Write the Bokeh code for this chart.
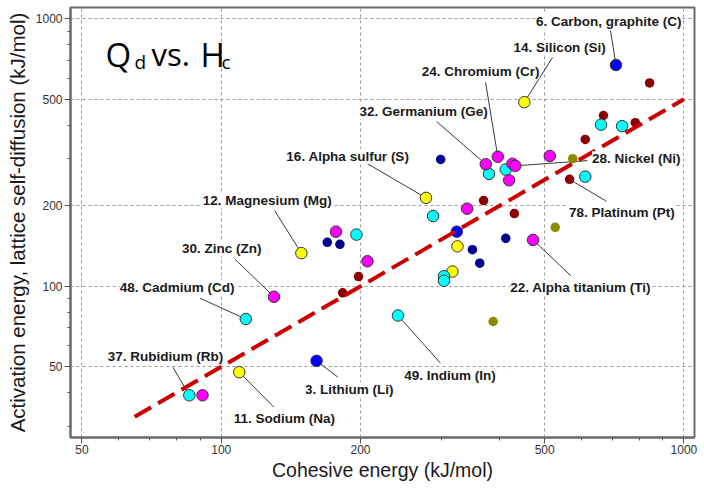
from bokeh.plotting import figure
from bokeh.models import ColumnDataSource, LabelSet, Label, FixedTicker, NumeralTickFormatter
from bokeh.core.properties import value
from bokeh.embed import file_html
from bokeh.resources import INLINE

# ---- data (cohesive energy kJ/mol, activation energy kJ/mol) ----
yellow_x = [452, 277, 324, 316, 149, 109.4]
yellow_y = [488, 214, 141, 113.5, 133, 47.7]
cyan_x = [379, 412, 612, 662, 735, 287, 303, 303, 241, 196, 113, 85.3]
cyan_y = [263, 273, 257, 402, 397, 183, 109, 104.8, 77.7, 156, 75.4, 39.1]
magenta_x = [396, 373, 426, 432, 419, 513, 340, 472, 177, 207, 130, 91.1]
magenta_y = [305, 286, 287, 282, 249, 307, 195, 149, 160, 124, 91.3, 39.1]
blue_x = [713, 323, 160.7]
blue_y = [672, 160, 52.6]
navy_x = [298, 169.5, 180.5, 412, 349, 362]
navy_y = [298, 146, 143.5, 151, 137, 122]
darkred_x = [843, 670, 785, 612, 566, 369, 430, 198, 183]
darkred_y = [576, 435, 409, 354, 251, 209, 187, 108.7, 94.5]
olive_x = [575, 527, 387]
olive_y = [300, 166, 73.8]

fit_x = [65, 1000]
fit_y = [32.5, 500]

label_text = ["6. Carbon, graphite (C)", "14. Silicon (Si)", "24. Chromium (Cr)",
              "32. Germanium (Ge)", "16. Alpha sulfur (S)", "28. Nickel (Ni)",
              "78. Platinum (Pt)", "12. Magnesium (Mg)", "30. Zinc (Zn)",
              "48. Cadmium (Cd)", "37. Rubidium (Rb)", "11. Sodium (Na)",
              "3. Lithium (Li)", "49. Indium (In)", "22. Alpha titanium (Ti)"]
label_pt_x = [713, 452, 396, 373, 277, 432, 566, 149, 130, 113, 85.3, 109.4, 160.7, 241, 472]
label_pt_y = [672, 488, 305, 286, 214, 282, 251, 133, 91.3, 75.4, 39.1, 47.7, 52.6, 77.7, 149]
# label placement (annotation layout)
label_x = [687.5, 539, 363.5, 273.7, 187.8, 789, 734.6, 125.7, 100.3, 80.3, 75.8, 136.9, 189.1, 312, 598]
label_y = [977, 783, 635, 450, 306, 300, 189, 208.7, 138, 99.1, 54.6, 31.9, 41.1, 46.4, 99.1]
leader_x = [694, 520, 372.7, 292, 206.8, 618.5, 679.6, 130.4, 106.9, 89.9, 78.6, 129.9, 178.7, 297.9, 569]
leader_y = [904, 717, 578, 413, 287.6, 295, 208, 191.9, 126.6, 90.2, 49.8, 35.3, 45.7, 51.5, 109.7]

major_ticks = [50, 100, 200, 500, 1000]
x_minor = [60, 70, 80, 90, 300, 400, 600, 700, 800, 900]
y_minor = [30, 40, 60, 70, 80, 90, 300, 400, 600, 700, 800, 900]

p = figure(width=700, height=484, x_axis_type="log", y_axis_type="log",
           x_range=(47.23, 1054), y_range=(27.18, 1102.5),
           output_backend="svg", toolbar_location=None,
           min_border_left=70, min_border_right=6, min_border_top=7, min_border_bottom=47)
p.background_fill_color = "white"
p.border_fill_color = "white"
p.outline_line_color = "#6b6b6b"
p.outline_line_width = 2

for ax, minor in ((p.xaxis, x_minor), (p.yaxis, y_minor)):
    ax.ticker = FixedTicker(ticks=major_ticks, minor_ticks=minor)
    ax.formatter = NumeralTickFormatter(format="0")
    ax.axis_line_color = "#6b6b6b"
    ax.axis_line_width = 2
    ax.major_tick_line_color = "#555555"
    ax.minor_tick_line_color = "#555555"
    ax.major_tick_out = 6
    ax.major_tick_in = 0
    ax.minor_tick_out = 3
    ax.minor_tick_in = 0
    ax.major_label_text_font = "Liberation Sans"
    ax.major_label_text_font_size = "12px"
    ax.major_label_text_color = "#333333"
    ax.axis_label_text_font = "Liberation Sans"
    ax.axis_label_text_font_style = "normal"
    ax.axis_label_text_color = "#1a1a1a"

p.xaxis.major_label_standoff = 1
p.xaxis.axis_label_standoff = 2
p.yaxis.major_label_standoff = 2
p.yaxis.axis_label_standoff = 4
p.xaxis.axis_label = "Cohesive energy (kJ/mol)"
p.yaxis.axis_label = "Activation energy, lattice self-diffusion (kJ/mol)"
p.xaxis.axis_label_text_font_size = "19.5px"
p.yaxis.axis_label_text_font_size = "20.5px"

for g in (p.xgrid, p.ygrid):
    g.grid_line_color = "#9a9a9a"
    g.grid_line_dash = "3 3"
    g.grid_line_width = 1

# leader lines
lead_src = ColumnDataSource(dict(x0=leader_x, y0=leader_y, x1=label_pt_x, y1=label_pt_y))
p.segment("x0", "y0", "x1", "y1", source=lead_src, line_color="#3a3a3a", line_width=1)

# small dots
for xs, ys, col in ((navy_x, navy_y, "#00008b"), (darkred_x, darkred_y, "#8b0000"),
                    (olive_x, olive_y, "#8b8b00")):
    p.scatter(xs, ys, size=9.5, fill_color=col, line_color=None)

# big outlined circles
for xs, ys, col in ((yellow_x, yellow_y, "#ffff00"), (cyan_x, cyan_y, "#00ffff"),
                    (magenta_x, magenta_y, "#ff00ff"), (blue_x, blue_y, "#0000ff")):
    p.scatter(xs, ys, size=11.5, fill_color=col, line_color="#333333", line_width=1)

# dashed fit line
p.line(fit_x, fit_y, line_color="#cc0000", line_width=4, line_dash="19 8")

# element labels
lab_src = ColumnDataSource(dict(x=label_x, y=label_y, text=label_text))
p.add_layout(LabelSet(x="x", y="y", text="text", source=lab_src,
                      text_align="center", text_baseline="middle",
                      text_font=value("Liberation Sans"), text_font_size=value("13.5px"),
                      text_font_style=value("bold"), text_color=value("#1a1a1a"),
                      background_fill_color=value("white")))

# title "Qd vs. Hc"
big = "33px"
small = "19px"
for tx, ty, t, fs in ((56.2, 735.6, "Q", big), (64.95, 692, "d", small),
                      (70.7, 735.6, "vs.", "31px"), (90.2, 735.6, "H", big),
                      (100.1, 692, "c", small)):
    p.add_layout(Label(x=tx, y=ty, text=t, text_font="Open Sans", text_font_size=fs,
                       text_align="left", text_baseline="alphabetic", text_color="#000000"))

open("out.html", "w").write(file_html(p, INLINE))
